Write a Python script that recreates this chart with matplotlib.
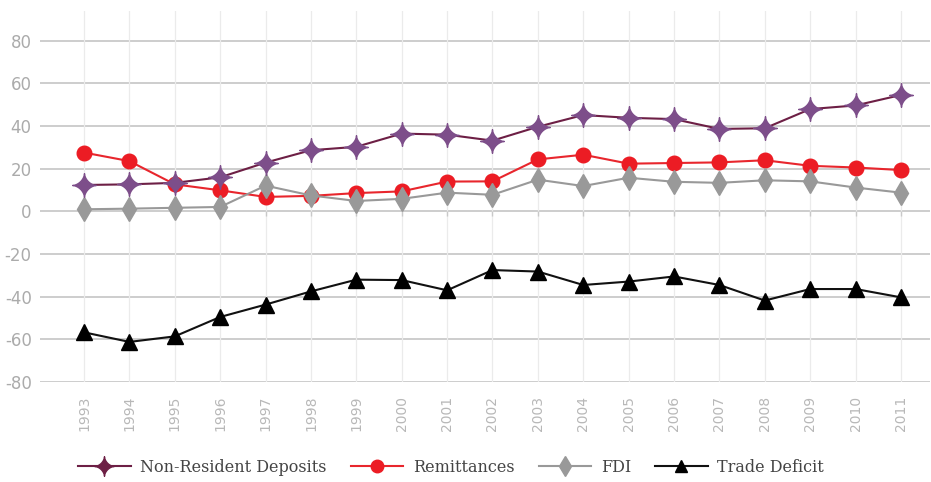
import matplotlib
matplotlib.use("Agg")
import matplotlib.pyplot as plt
from matplotlib.lines import Line2D
from matplotlib.path import Path
import numpy as np

years = list(range(1993, 2012))
year_labels = [str(y) for y in years]
non_resident = [12.4, 12.7, 13.4, 16.0, 22.9, 28.7, 30.3, 36.5, 36.0, 33.2, 39.7,
                45.2, 43.9, 43.3, 38.7, 39.0, 48.0, 49.7, 54.6]
remittances = [27.6, 23.6, 12.7, 9.9, 6.8, 7.3, 8.6, 9.4, 14.0, 14.1, 24.4,
               26.6, 22.4, 22.7, 23.0, 24.0, 21.4, 20.6, 19.4]
fdi = [1.0, 1.3, 1.7, 2.1, 12.1, 7.5, 4.9, 5.9, 8.8, 7.8, 14.9,
       11.9, 15.8, 13.9, 13.4, 14.6, 14.1, 11.2, 8.8]
trade_deficit = [-56.7, -61.2, -58.6, -49.5, -43.7, -37.5, -32.0, -32.2, -37.0, -27.5, -28.2,
                 -34.5, -32.9, -30.5, -34.5, -41.8, -36.4, -36.4, -40.3]
y_ticks = [-80, -60, -40, -20, 0, 20, 40, 60, 80]

# four-pointed star with concave sides (superellipse, p < 1)
_t = np.linspace(0, 2 * np.pi, 161)
_p = 0.62
_c, _s = np.cos(_t), np.sin(_t)
_verts = np.column_stack([np.sign(_c) * np.abs(_c) ** (2 / _p),
                          np.sign(_s) * np.abs(_s) ** (2 / _p)])
star = Path(_verts, closed=True)

fig = plt.figure(figsize=(9.31, 4.82), dpi=100)
W, H = 931, 482
ax = fig.add_axes([40 / W, (H - 382) / H, (930 - 40) / W, (382 - 11) / H])

ax.set_xlim(1992.03, 2011.64)
ax.set_ylim(-80, 94)

for s in ax.spines.values():
    s.set_visible(False)

for yv in y_ticks:
    ax.axhline(yv, color="#c9c9c9", lw=1.3, zorder=0)
for xv in years:
    ax.axvline(xv, color="#ebebeb", lw=0.9, zorder=0)
ax.vlines(years, -2.2, 0, color="#c9c9c9", lw=1.0, zorder=0)

ax.set_yticks(y_ticks)
ax.set_yticklabels([str(v) for v in y_ticks])
ax.set_xticks(years)
ax.set_xticklabels(year_labels, rotation=90)
ax.tick_params(axis="y", length=0, pad=6, labelcolor="#ababab", labelsize=12)
ax.tick_params(axis="x", length=0, pad=10, labelcolor="#b8b8b8", labelsize=10)

ax.plot(years, remittances, color="#e8262d", lw=1.5, marker="o", markersize=10.5,
        markerfacecolor="#ec1c24", markeredgecolor="#ec1c24", zorder=2)
ax.plot(years, fdi, color="#999999", lw=1.5, marker="d", markersize=12,
        markerfacecolor="#999999", markeredgecolor="#999999", zorder=3)
ax.plot(years, non_resident, color="#6d1f45", lw=1.5, marker=star, markersize=17,
        markerfacecolor="#7d4e8a", markeredgecolor="#7d4e8a", zorder=4)
ax.plot(years, trade_deficit, color="#111111", lw=1.5, marker="^", markersize=12,
        markerfacecolor="black", markeredgecolor="black", zorder=4)

handles = [
    Line2D([], [], color="#6d1f45", lw=1.5, marker=star, markersize=14,
           markerfacecolor="#6d1f45", markeredgecolor="#6d1f45"),
    Line2D([], [], color="#e8262d", lw=1.5, marker="o", markersize=9,
           markerfacecolor="#ec1c24", markeredgecolor="#ec1c24"),
    Line2D([], [], color="#999999", lw=1.5, marker="d", markersize=10,
           markerfacecolor="#999999", markeredgecolor="#999999"),
    Line2D([], [], color="#111111", lw=1.5, marker="^", markersize=9,
           markerfacecolor="black", markeredgecolor="black"),
]
labels = ["Non-Resident Deposits", "Remittances", "FDI", "Trade Deficit"]
leg = fig.legend(handles, labels, loc="center", bbox_to_anchor=(451 / W, (H - 467) / H),
                 ncol=4, frameon=False, handlelength=3.3, handletextpad=0.6,
                 columnspacing=1.5, prop={"family": "DejaVu Serif", "size": 11.5})
for t in leg.get_texts():
    t.set_color("#444444")

fig.savefig("out.png", dpi=100)
